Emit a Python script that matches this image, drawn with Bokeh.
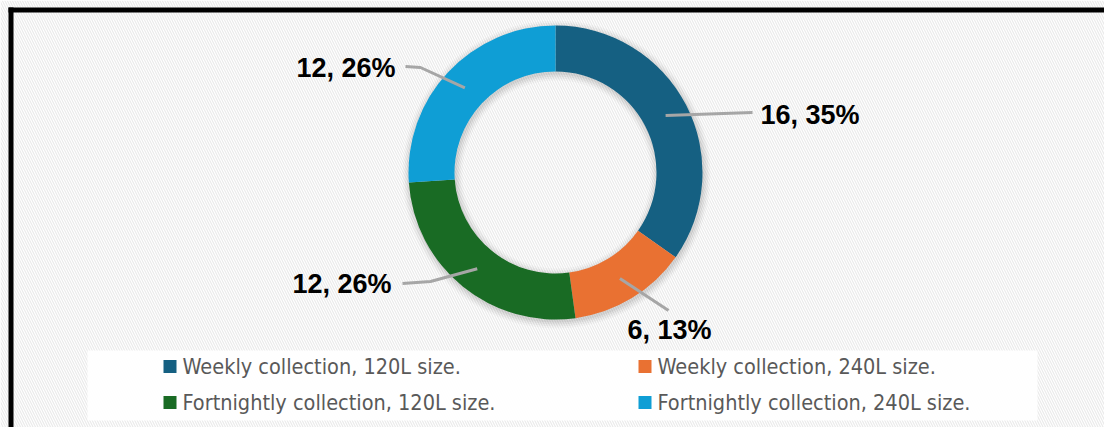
import numpy as np
from bokeh.plotting import figure
from bokeh.models import Range1d
from bokeh.core.properties import value
from bokeh.embed import file_html
from bokeh.resources import INLINE

# ---- data ----
categories = ["Weekly collection, 120L size.", "Weekly collection, 240L size.",
              "Fortnightly collection, 120L size.", "Fortnightly collection, 240L size."]
counts = [16, 6, 12, 12]
colors = ["#156082", "#E97132", "#196B24", "#0F9ED5"]

# ---- canvas (1 data unit = 1 px) ----
W, H = 1104, 427
p = figure(width=W, height=H, x_range=Range1d(0, W), y_range=Range1d(0, H),
           output_backend="svg", toolbar_location=None, min_border=0)
p.axis.visible = False
p.grid.visible = False
p.outline_line_color = None
p.background_fill_color = "white"
p.border_fill_color = "white"


def X(rx):
    return rx


def Y(ry):
    return H - ry


# hatched background
p.quad(left=0, right=W, bottom=0, top=H, fill_color="white", line_color=None,
       hatch_pattern="\\", hatch_color="#EAEAEA", hatch_scale=5, hatch_weight=1.2)

# black border (top and left)
p.quad(left=X(8), right=W, bottom=Y(12), top=Y(7), fill_color="black", line_color=None)
p.quad(left=X(8), right=X(13), bottom=0, top=Y(7), fill_color="black", line_color=None)

# ---- donut ----
cx, cy = X(555), Y(172)
r_in, r_out = 101, 147
total = sum(counts)
frac = np.array(counts) / total
cum = np.concatenate([[0], np.cumsum(frac)])
start = np.pi / 2 - 2 * np.pi * cum[1:]
end = np.pi / 2 - 2 * np.pi * cum[:-1]

# soft shadow
for k, a in [(7, 0.025), (5, 0.035), (3, 0.045), (1, 0.05)]:
    p.annulus(x=cx + 1, y=cy - 2, inner_radius=r_in - k, outer_radius=r_out + k,
              fill_color="black", fill_alpha=a, line_color=None)

p.annular_wedge(x=cx, y=cy, inner_radius=r_in, outer_radius=r_out,
                start_angle=start, end_angle=end, direction="anticlock",
                fill_color=colors, line_color=None)

# ---- data labels with leader lines ----
mid = (cum[:-1] + cum[1:]) / 2 * 2 * np.pi  # clockwise from top
r_lead = (r_in + r_out) / 2
sx = cx + r_lead * np.sin(mid)
sy = cy + r_lead * np.cos(mid)
lead_pts = [[(752, 112)], [(668, 310)], [(430, 281), (402, 283)], [(420, 67), (405, 66)]]
xs, ys = [], []
for i, pts in enumerate(lead_pts):
    xs.append([sx[i]] + [X(a) for a, b in pts])
    ys.append([sy[i]] + [Y(b) for a, b in pts])
p.multi_line(xs=xs, ys=ys, line_color="#A6A6A6", line_width=3)

labels = [f"{c}, {round(f * 100)}%" for c, f in zip(counts, frac)]
lab_pos = [(760, 114, "left"), (669, 329, "center"), (391, 283, "right"), (395, 67, "right")]
for i, (lx, ly, al) in enumerate(lab_pos):
    p.text(x=[X(lx)], y=[Y(ly)], text=[labels[i]], text_align=al, text_baseline="middle",
           text_font=value("Liberation Sans"), text_font_style="bold",
           text_font_size="27px", text_color="black")

# ---- legend (manual) ----
p.quad(left=X(87), right=X(1037), bottom=Y(420), top=Y(350), fill_color="white",
       fill_alpha=0.92, line_color=None)
col_x = [163, 638]
row_y = [366, 402]
sq_x = [X(col_x[i % 2]) + 6.5 for i in range(4)]
sq_y = [Y(row_y[i // 2]) for i in range(4)]
p.rect(x=sq_x, y=sq_y, width=13, height=13, fill_color=colors, line_color=None)
p.text(x=[X(col_x[i % 2]) + 19 for i in range(4)], y=sq_y, text=categories,
       text_align="left", text_baseline="middle",
       text_font=value("'DejaVu Sans Condensed', sans-serif"),
       text_font_size="21.5px", text_color="#595959")

open("out.html", "w").write(file_html(p, INLINE))
